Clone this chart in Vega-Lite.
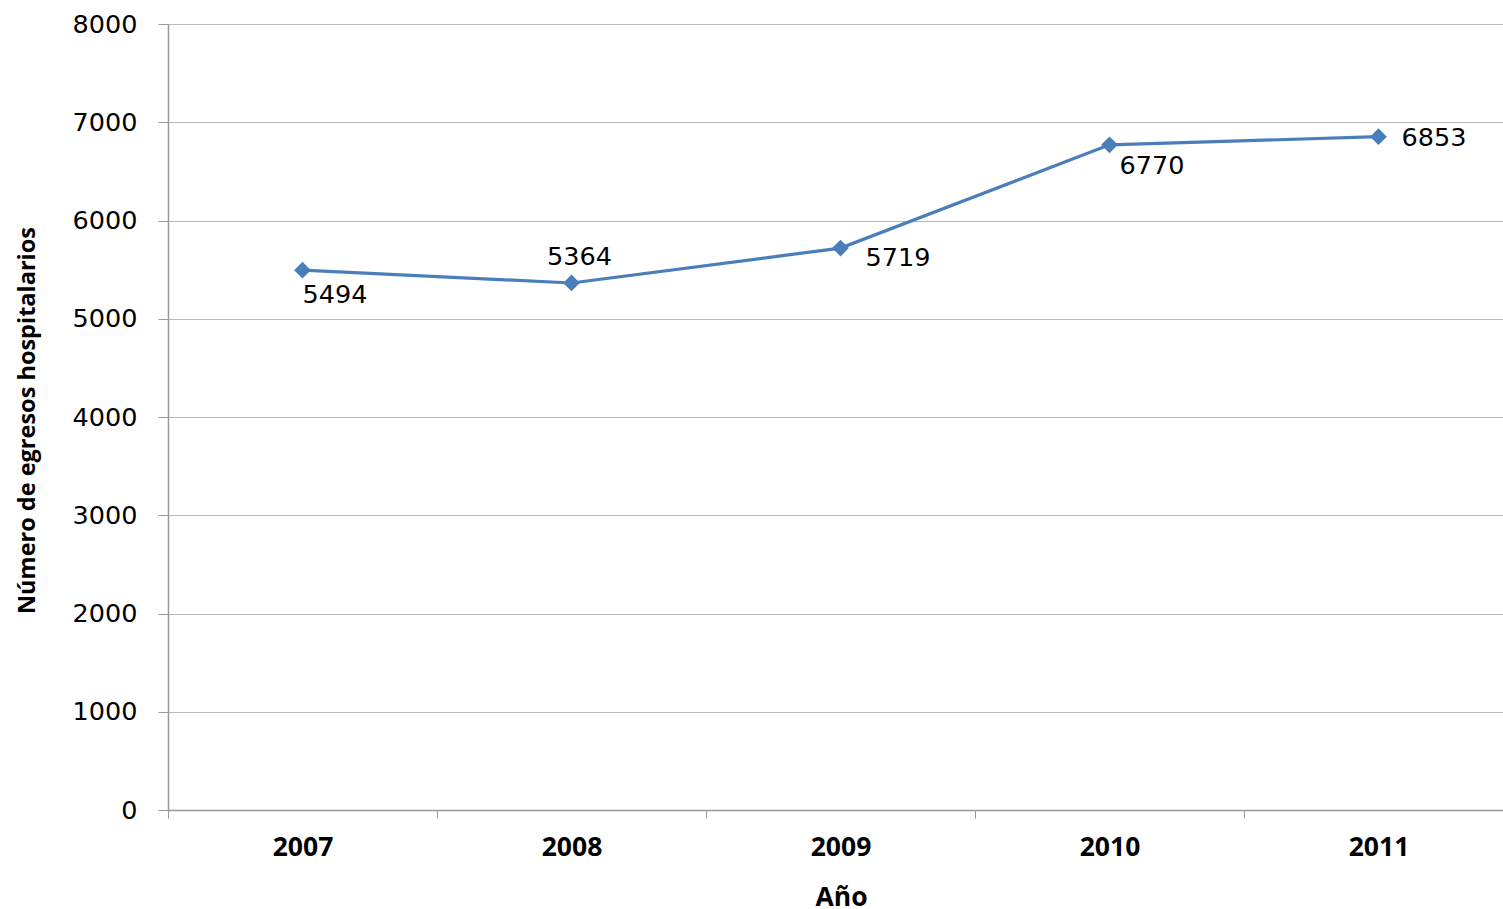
{
  "$schema": "https://vega.github.io/schema/vega-lite/v6.json",
  "width": 1345,
  "height": 786,
  "autosize": "none",
  "padding": {"left": 168, "top": 24, "right": 0, "bottom": 99},
  "background": "white",
  "config": {"view": {"stroke": null}},
  "data": {"values": [
    {"anio": "2007", "egresos": 5494},
    {"anio": "2008", "egresos": 5364},
    {"anio": "2009", "egresos": 5719},
    {"anio": "2010", "egresos": 6770},
    {"anio": "2011", "egresos": 6853}
  ]},
  "encoding": {
    "x": {"field": "anio", "type": "nominal", "scale": {"type": "point", "padding": 0.5},
      "axis": {"title": "Año", "labelAngle": 0, "labelFont": "Open Sans", "labelFontWeight": "bold", "labelFontSize": 26.5, "labelColor": "#000", "labelBaseline": "middle", "labelPadding": 29, "labelOffset": 134.5, "tickSize": 8, "tickOffset": -134.5, "tickColor": "#999", "domainColor": "#999", "domainWidth": 1.5, "grid": false, "titleFont": "Open Sans", "titleFontWeight": "bold", "titleFontSize": 26.5, "titleColor": "#000", "titleBaseline": "middle", "titleY": 87, "titleX": 673}},
    "y": {"field": "egresos", "type": "quantitative", "scale": {"domain": [0, 8000]},
      "axis": {"title": "Número de egresos hospitalarios", "values": [0,1000,2000,3000,4000,5000,6000,7000,8000], "format": "d", "labelFont": "DejaVu Sans", "labelFontSize": 25.5, "labelColor": "#000", "labelPadding": 21, "tickSize": 10, "tickColor": "#999", "domainColor": "#999", "domainWidth": 1.5, "grid": true, "gridColor": "#b8b8b8", "gridWidth": 1.2, "titleFont": "Open Sans", "titleFontWeight": "bold", "titleFontSize": 23.5, "titleColor": "#000", "titleBaseline": "middle", "titleX": -141, "titleY": 396, "titleAngle": -90}}
  },
  "layer": [
    {"mark": {"type": "line", "color": "#4A7EBB", "strokeWidth": 3.2, "point": {"shape": "diamond", "size": 280, "color": "#4A7EBB", "filled": true, "opacity": 1}}},
    {"transform": [{"filter": "datum.anio == '2007'"}], "mark": {"type": "text", "align": "left", "baseline": "middle", "dx": 0, "dy": 25, "font": "DejaVu Sans", "fontSize": 25.5, "color": "#000"}, "encoding": {"text": {"field": "egresos", "type": "quantitative", "format": "d"}}},
    {"transform": [{"filter": "datum.anio == '2008'"}], "mark": {"type": "text", "align": "center", "baseline": "middle", "dx": 8, "dy": -26, "font": "DejaVu Sans", "fontSize": 25.5, "color": "#000"}, "encoding": {"text": {"field": "egresos", "type": "quantitative", "format": "d"}}},
    {"transform": [{"filter": "datum.anio == '2009'"}], "mark": {"type": "text", "align": "left", "baseline": "middle", "dx": 25, "dy": 10, "font": "DejaVu Sans", "fontSize": 25.5, "color": "#000"}, "encoding": {"text": {"field": "egresos", "type": "quantitative", "format": "d"}}},
    {"transform": [{"filter": "datum.anio == '2010'"}], "mark": {"type": "text", "align": "left", "baseline": "middle", "dx": 10, "dy": 21, "font": "DejaVu Sans", "fontSize": 25.5, "color": "#000"}, "encoding": {"text": {"field": "egresos", "type": "quantitative", "format": "d"}}},
    {"transform": [{"filter": "datum.anio == '2011'"}], "mark": {"type": "text", "align": "left", "baseline": "middle", "dx": 23, "dy": 1, "font": "DejaVu Sans", "fontSize": 25.5, "color": "#000"}, "encoding": {"text": {"field": "egresos", "type": "quantitative", "format": "d"}}}
  ]
}
